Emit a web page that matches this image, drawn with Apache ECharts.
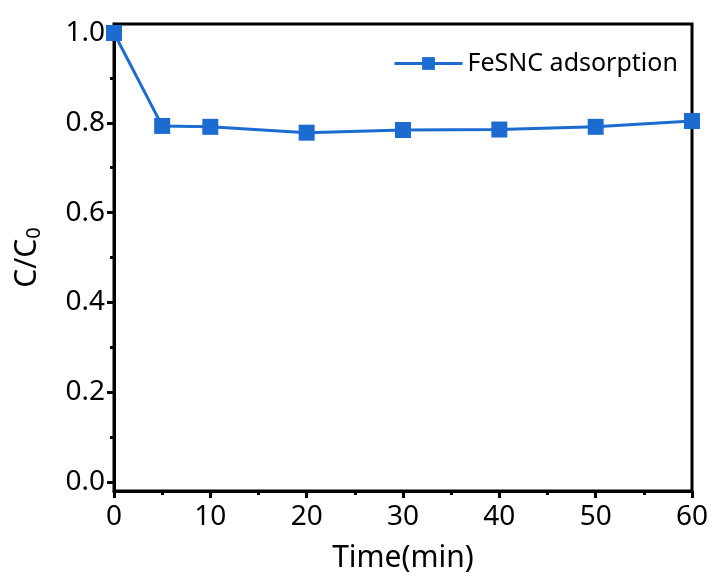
<!DOCTYPE html>
<html>
<head>
<meta charset="utf-8">
<script src="https://cdn.jsdelivr.net/npm/echarts@6/dist/echarts.min.js"></script>
<style>
html, body { margin: 0; padding: 0; background: #fff; }
#main { width: 713px; height: 576px; }
</style>
</head>
<body>
<div id="main"></div>
<script>
// based on prepared DOM, initialize echarts instance
var myChart = echarts.init(document.getElementById('main'));

var times = [0, 5, 10, 20, 30, 40, 50, 60];
var ratio = [1.0, 0.793, 0.791, 0.778, 0.784, 0.785, 0.791, 0.804];
var seriesName = 'FeSNC adsorption';
var yMajor = [0, 0.2, 0.4, 0.6, 0.8, 1.0];
var yMinor = [0.1, 0.3, 0.5, 0.7, 0.9];

var fontFamily = 'Noto Sans';
var blue = '#1c6bd0';

var data = [];
for (var i = 0; i < times.length; i++) {
    data.push([times[i], ratio[i]]);
}

var tickStyle = { color: '#000', width: 3 };

option = {
    animation: false,
    textStyle: { fontFamily: fontFamily },
    grid: {
        left: 114,
        right: 21,
        top: 24,
        bottom: 85,
        containLabel: false,
        outerBoundsMode: 'none',
        show: true,
        borderColor: '#000',
        borderWidth: 3,
        backgroundColor: 'transparent'
    },
    legend: {
        show: true,
        left: 388,
        top: 46,
        itemWidth: 68,
        itemHeight: 16,
        itemGap: 6,
        lineStyle: { width: 3 },
        textStyle: { fontSize: 25, color: '#000', fontFamily: fontFamily },
        data: [seriesName]
    },
    xAxis: {
        type: 'value',
        min: 0,
        max: 60,
        interval: 10,
        name: 'Time(min)',
        nameLocation: 'middle',
        nameGap: 52,
        nameTextStyle: { fontSize: 30, color: '#000', fontFamily: fontFamily },
        axisLine: { show: true, onZero: false, lineStyle: { color: '#000', width: 3 } },
        axisTick: { show: true, inside: false, length: 7, lineStyle: tickStyle },
        minorTick: { show: true, splitNumber: 2, length: 4, lineStyle: tickStyle },
        axisLabel: { fontSize: 28, color: '#000', margin: 12, fontFamily: fontFamily },
        splitLine: { show: false }
    },
    yAxis: [{
        type: 'value',
        min: -0.02,
        max: 1.02,
        name: 'C/C{sub|0}',
        nameLocation: 'middle',
        nameGap: 70,
        nameRotate: 90,
        nameTextStyle: {
            fontSize: 30,
            color: '#000',
            fontFamily: fontFamily,
            rich: {
                sub: { fontSize: 20, color: '#000', fontFamily: fontFamily, verticalAlign: 'bottom', padding: [14, 0, 0, 0] }
            }
        },
        axisLine: { show: true, onZero: false, lineStyle: { color: '#000', width: 3 } },
        axisTick: { show: true, inside: false, length: 7, customValues: yMajor, lineStyle: tickStyle },
        axisLabel: {
            fontSize: 28,
            color: '#000',
            margin: 9,
            fontFamily: fontFamily,
            customValues: yMajor,
            formatter: function (v) { return v.toFixed(1); }
        },
        splitLine: { show: false }
    }, {
        // minor ticks only
        type: 'value',
        position: 'left',
        min: -0.02,
        max: 1.02,
        axisLine: { show: false },
        axisTick: { show: true, inside: false, length: 4, customValues: yMinor, lineStyle: tickStyle },
        axisLabel: { show: false },
        splitLine: { show: false }
    }],
    series: [{
        name: seriesName,
        type: 'line',
        data: data,
        symbol: 'rect',
        symbolSize: 16,
        clip: true,
        itemStyle: { color: blue },
        lineStyle: { color: blue, width: 3 }
    }]
};

// use configuration item and data specified to show chart
myChart.setOption(option);
</script>
</body>
</html>
